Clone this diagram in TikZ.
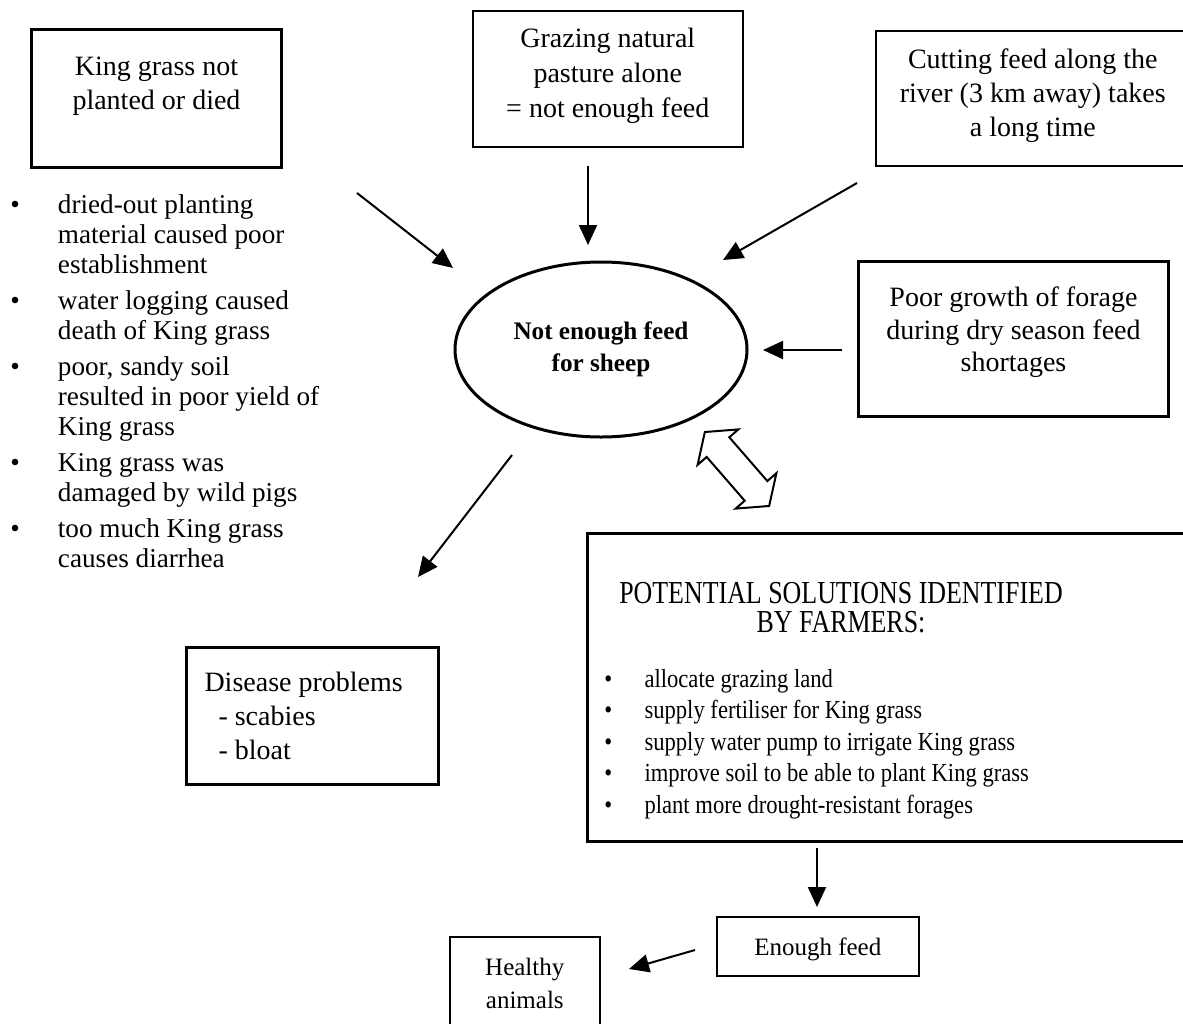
\documentclass[tikz,border=0pt]{standalone}
\usepackage{fontspec}
\usepackage{graphicx}
\setmainfont{Liberation Serif}
\usetikzlibrary{arrows.meta,shapes.geometric}

\begin{document}
\begin{tikzpicture}[x=0.5pt,y=-0.5pt,>={Triangle[length=10pt,width=9pt]}]
  \tikzset{
    box/.style={draw=black,inner sep=0pt,anchor=north west,align=flush center,font=\fontsize{14}{17}\selectfont},
    light/.style={box,line width=0.8pt}, heavy/.style={box,line width=1.5pt},
    link/.style={->,line width=1pt},
    list/.style={inner sep=0pt,anchor=base west},
  }
  \useasboundingbox (0,0) rectangle (1183,1023);

  % causes round the problem
  \node[heavy,text width=125pt,text height=23pt,text depth=46pt] (kg) at (30,28) {King grass not\\planted or died};
  \node[light,text width=135pt,text height=18.5pt,text depth=49.5pt,font=\fontsize{14}{17.5}\selectfont] (graze) at (472,10)
    {Grazing natural\\pasture alone\\= not enough feed};
  \node[light,text width=157pt,text height=19pt,text depth=48.5pt] (cut) at (875,30)
    {Cutting feed along the\\river (3 km away) takes\\a long time};
  \node[heavy,text width=155pt,text height=22.5pt,text depth=55pt,font=\fontsize{14}{16.25}\selectfont] (dry) at (857,260)
    {Poor growth of forage\\during dry season feed\\shortages};

  \node[list,font=\fontsize{13.6}{15}\selectfont] (why) at (10,213) {\begin{tabular}[t]{@{}l@{\hspace{19pt}}l@{}}
    • & dried-out planting\\ & material caused poor\\ & establishment\\[3pt]
    • & water logging caused\\ & death of King grass\\[3pt]
    • & poor, sandy soil\\ & resulted in poor yield of\\ & King grass\\[3pt]
    • & King grass was\\ & damaged by wild pigs\\[3pt]
    • & too much King grass\\ & causes diarrhea
  \end{tabular}};

  \node[ellipse,draw,line width=1.5pt,minimum width=146pt,minimum height=87.5pt,inner sep=0pt,align=flush center,
    font=\fontsize{12.6}{16}\selectfont\bfseries] (feed) at (601,349.5) {Not enough feed\\for sheep};

  % effects and solutions
  \node[heavy,align=flush left,inner xsep=9pt,text width=108pt,text height=22pt,text depth=46.5pt] (sick) at (185,646)
    {Disease problems\\\hspace*{7pt}- scabies\\\hspace*{7pt}- bloat};

  \node[heavy,minimum width=304.5pt,minimum height=154pt] (sol) at (586,532) {};
  \node[inner sep=0pt,anchor=base,font=\fontsize{16}{14.5}\selectfont] (solhead) at (841,603)
    {\scalebox{0.81}[1]{\begin{tabular}[t]{@{}c@{}}POTENTIAL SOLUTIONS IDENTIFIED\\BY FARMERS:\end{tabular}}};
  \node[list,font=\fontsize{13}{15.75}\selectfont] (sollist) at (604,687) {\scalebox{0.87}[1]{\begin{tabular}[t]{@{}l@{\hspace{18.5pt}}l@{}}
    • & allocate grazing land\\
    • & supply fertiliser for King grass\\
    • & supply water pump to irrigate King grass\\
    • & improve soil to be able to plant King grass\\
    • & plant more drought-resistant forages
  \end{tabular}}};

  \node[light,text width=101pt,text height=19.5pt,text depth=10pt,font=\fontsize{12.5}{16.5}\selectfont] (enough) at (716,916) {Enough feed};
  \node[light,text width=75pt,text height=19.5pt,text depth=32.5pt,font=\fontsize{12.5}{16.5}\selectfont] (healthy) at (449,936) {Healthy\\animals};

  % arrow ends
  \coordinate (kgout) at (357,193);   \coordinate (kgin) at (453,268);
  \coordinate (grazeout) at (588,166); \coordinate (grazein) at (588,245);
  \coordinate (cutout) at (857,183);  \coordinate (cutin) at (723,260);
  \coordinate (dryout) at (842,350);  \coordinate (dryin) at (763,350);
  \coordinate (feedout) at (512,455); \coordinate (sickin) at (418,577);
  \coordinate (solout) at (817,848);  \coordinate (enoughin) at (817,907);
  \coordinate (enoughout) at (695,950); \coordinate (healthyin) at (629,969);

  \draw[link] (kgout) -- (kgin);
  \draw[link] (grazeout) -- (grazein);
  \draw[link] (cutout) -- (cutin);
  \draw[link] (dryout) -- (dryin);
  \draw[link] (feedout) -- (sickin);
  \draw[link] (solout) -- (enoughin);
  \draw[link] (enoughout) -- (healthyin);

  % two-way arrow between problem and solutions
  \begin{scope}[shift={(737,469)},rotate=-49]
    \draw[line width=1pt,fill=white] (-49,0) -- (-29,27) -- (-29,15) -- (29,15) -- (29,27) -- (49,0)
      -- (29,-27) -- (29,-15) -- (-29,-15) -- (-29,-27) -- cycle;
  \end{scope}
\end{tikzpicture}
\end{document}
